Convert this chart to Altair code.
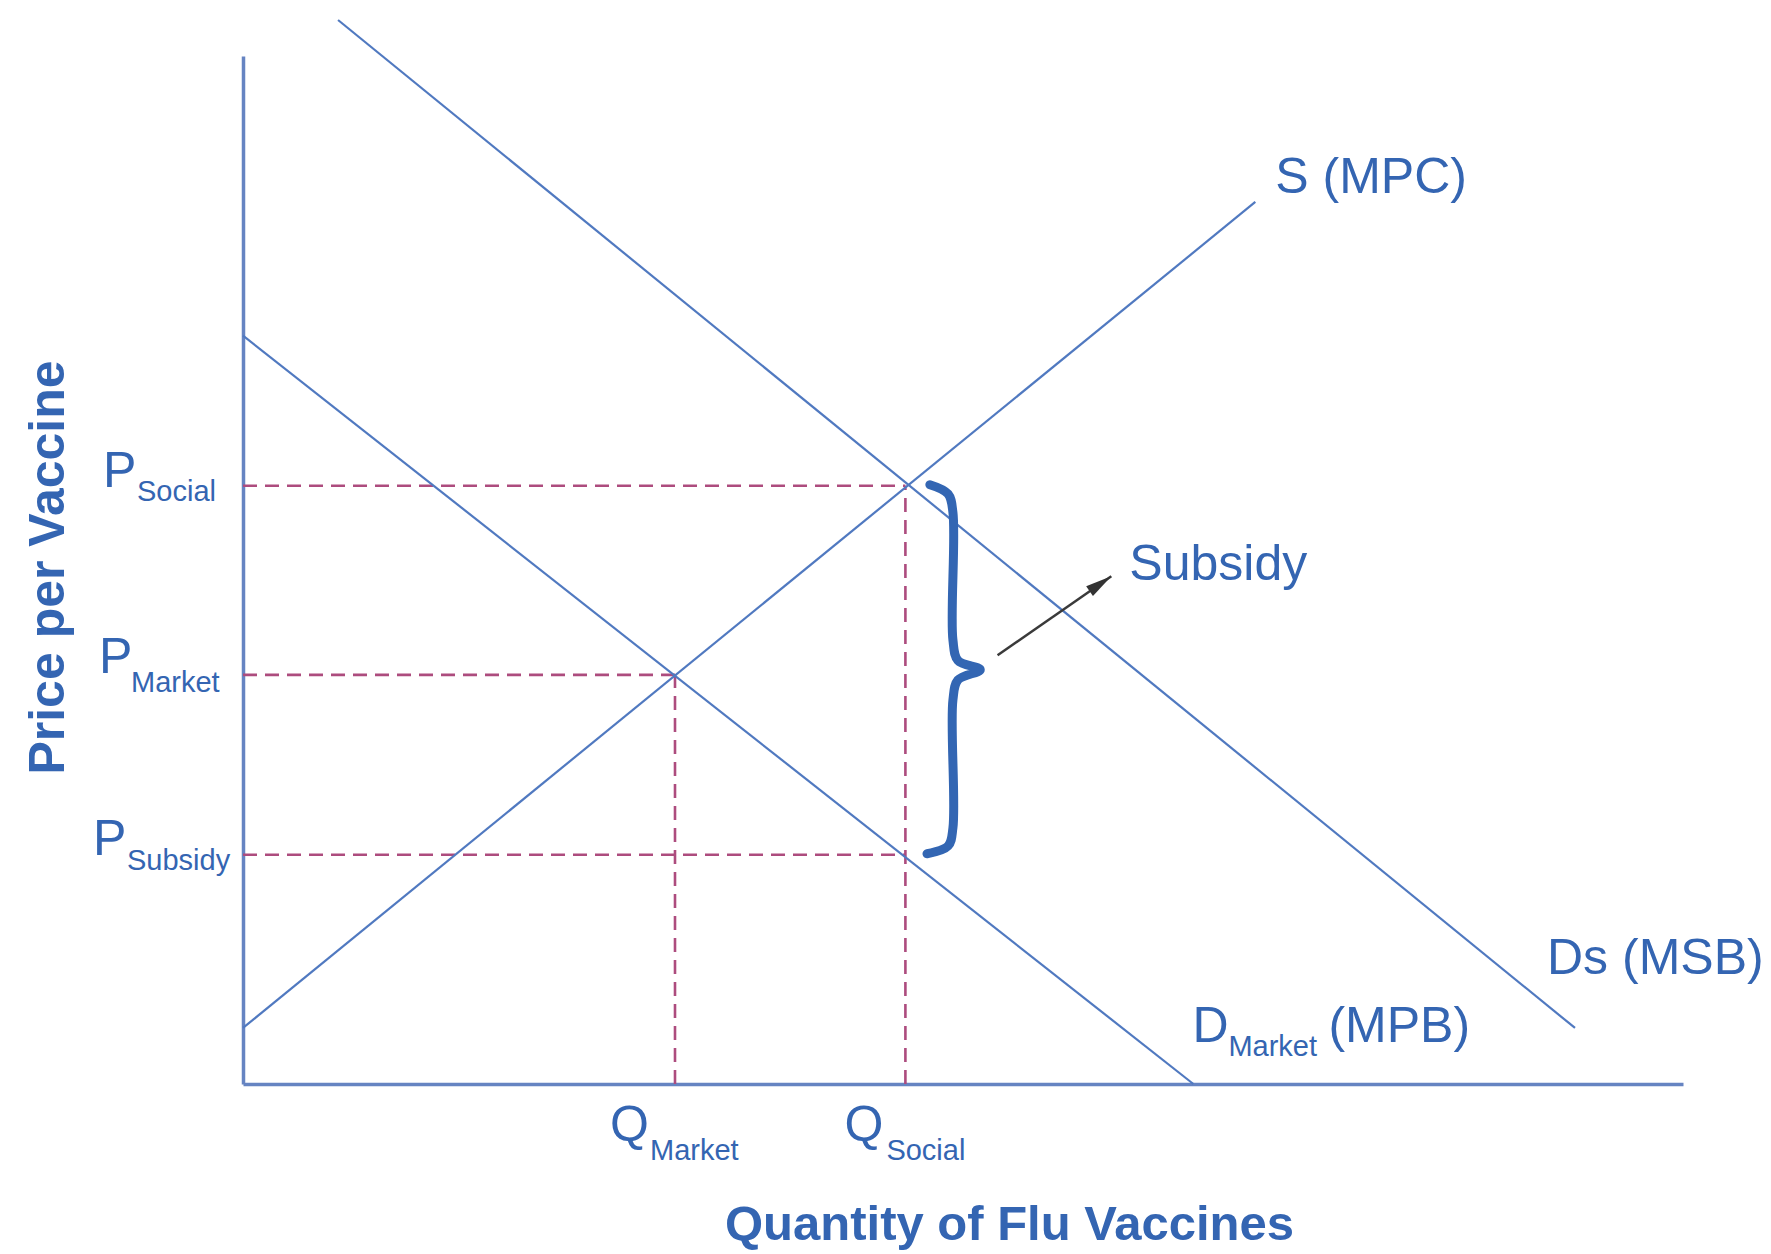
import altair as alt
import pandas as pd

# ---------------- data (economic units) ----------------
Q_MARKET = 30.0
Q_SOCIAL = 46.0
P_SOCIAL = 58.2
P_MARKET = 39.8
P_SUBSIDY = 22.3

supply_x = [0.0, 70.3]
supply_y = [5.45, 85.8]
dmarket_x = [0.0, 66.0]
dmarket_y = [72.8, 0.0]
dsocial_x = [6.6, 92.5]
dsocial_y = [103.5, 5.45]

brace_x = [47.7, 48.96, 49.3, 49.3, 49.65, 51.2, 49.65, 49.3, 49.3, 48.96, 47.5]
brace_y = [58.3, 57.4, 55.6, 43.2, 41.2, 40.3, 39.3, 37.35, 24.9, 23.15, 22.4]

arrow_x = [52.4, 60.3]
arrow_y = [41.7, 49.4]

FONT = "Liberation Sans"
TEXT_COLOR = "#3465B2"
LINE_COLOR = "#5079C0"
AXIS_COLOR = "#6684C2"
DASH_COLOR = "#AD4C7E"

XDOM = [0, 100]
YDOM = [0, 100]


def X(field="x"):
    return alt.X(
        f"{field}:Q",
        scale=alt.Scale(domain=XDOM, nice=False, zero=False),
        axis=alt.Axis(
            title="Quantity of Flu Vaccines",
            domain=True, domainColor=AXIS_COLOR, domainWidth=3.5,
            ticks=False, labels=False, grid=False,
            titleFont=FONT, titleFontSize=49, titleFontWeight="bold",
            titleColor=TEXT_COLOR, titleX=766, titleY=155,
            titleBaseline="alphabetic", titleAlign="center",
        ),
    )


def Y(field="y"):
    return alt.Y(
        f"{field}:Q",
        scale=alt.Scale(domain=YDOM, nice=False, zero=False),
        axis=alt.Axis(
            title="Price per Vaccine",
            domain=True, domainColor=AXIS_COLOR, domainWidth=3.5,
            ticks=False, labels=False, grid=False,
            titleFont=FONT, titleFontSize=50, titleFontWeight="bold",
            titleColor=TEXT_COLOR, titleX=-180, titleY=511,
            titleAngle=270, titleBaseline="alphabetic", titleAlign="center",
        ),
    )


# curves
rows = []
for name, xs, ys in [("S", supply_x, supply_y), ("D", dmarket_x, dmarket_y), ("Ds", dsocial_x, dsocial_y)]:
    for i, (a, b) in enumerate(zip(xs, ys)):
        rows.append({"series": name, "x": a, "y": b, "i": i})
curves_df = pd.DataFrame(rows)

curves = alt.Chart(curves_df).mark_line(color=LINE_COLOR, strokeWidth=2.2).encode(
    x=X(), y=Y(), detail="series:N", order="i:Q"
)

# dashed guides
dash_df = pd.DataFrame({
    "x": [0, 0, 0, Q_MARKET, Q_SOCIAL],
    "y": [P_SOCIAL, P_MARKET, P_SUBSIDY, 0, 0],
    "x2": [Q_SOCIAL, Q_MARKET, Q_SOCIAL, Q_MARKET, Q_SOCIAL],
    "y2": [P_SOCIAL, P_MARKET, P_SUBSIDY, P_MARKET, P_SOCIAL],
})
dashes = alt.Chart(dash_df).mark_rule(color=DASH_COLOR, strokeWidth=2.6, strokeDash=[14, 8]).encode(
    x=X(), y=Y(), x2="x2:Q", y2="y2:Q"
)

# brace
brace_df = pd.DataFrame({"x": brace_x, "y": brace_y, "i": list(range(len(brace_x)))})
brace = alt.Chart(brace_df).mark_line(
    color="#3366B3", strokeWidth=9, interpolate="catmull-rom", strokeCap="round", strokeJoin="round"
).encode(x=X(), y=Y(), order="i:Q")

# arrow
arrow_df = pd.DataFrame({"x": arrow_x, "y": arrow_y, "i": [0, 1]})
arrow_line = alt.Chart(arrow_df).mark_line(color="#3a3a3a", strokeWidth=2.5).encode(
    x=X(), y=Y(), order="i:Q"
)
head_df = pd.DataFrame({"x": [arrow_x[1]], "y": [arrow_y[1]]})
arrow_head = alt.Chart(head_df).mark_point(
    shape="M0,0L0.5,2.2L-0.5,2.2Z", size=576, angle=55.5, filled=True,
    color="#333333", opacity=1, strokeWidth=0
).encode(x=X(), y=Y())


def label(text, x, y, size, dx, dy, bold=False):
    df = pd.DataFrame({"x": [x], "y": [y], "t": [text]})
    return alt.Chart(df).mark_text(
        font=FONT, fontSize=size, fontWeight="bold" if bold else "normal",
        color=TEXT_COLOR, align="left", baseline="alphabetic", dx=dx, dy=dy
    ).encode(x=X(), y=Y(), text="t:N")


BIG = 50
SUB = 29
labels = [
    # price labels
    label("P", 0, P_SOCIAL, BIG, -140, 1),
    label("Social", 0, P_SOCIAL, SUB, -106, 15),
    label("P", 0, P_MARKET, BIG, -144, -2),
    label("Market", 0, P_MARKET, SUB, -112, 17),
    label("P", 0, P_SUBSIDY, BIG, -150, 0),
    label("Subsidy", 0, P_SUBSIDY, SUB, -116, 15),
    # quantity labels
    label("Q", Q_MARKET, 0, BIG, -65, 57),
    label("Market", Q_MARKET, 0, SUB, -25, 76),
    label("Q", Q_SOCIAL, 0, BIG, -61, 57),
    label("Social", Q_SOCIAL, 0, SUB, -19, 76),
    # curve labels
    label("S (MPC)", supply_x[1], supply_y[1], BIG, 20, -9),
    label("Ds (MSB)", dsocial_x[1], dsocial_y[1], BIG, -28, -54),
    label("D", dmarket_x[1], dmarket_y[1], BIG, -1, -42),
    label("Market", dmarket_x[1], dmarket_y[1], SUB, 35, -28),
    label("(MPB)", dmarket_x[1], dmarket_y[1], BIG, 135, -42),
    label("Subsidy", arrow_x[1], arrow_y[1], BIG, 18, 4),
]

chart = alt.layer(dashes, curves, brace, arrow_line, arrow_head, *labels).properties(
    width=1440,
    height=1028,
    autosize=alt.AutoSizeParams(type="none"),
    padding={"left": 235, "top": 48, "right": 80, "bottom": 168},
    background="white",
).configure_view(stroke=None)

chart.save("out.html", embed_options={"renderer": "svg", "actions": False})
